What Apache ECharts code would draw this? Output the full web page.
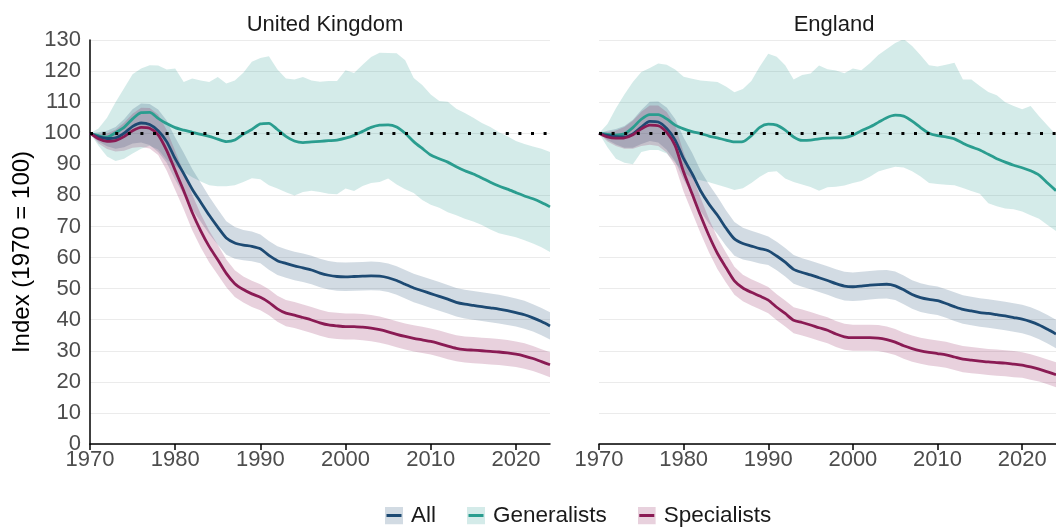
<!DOCTYPE html>
<html>
<head>
<meta charset="utf-8">
<script src="https://cdn.jsdelivr.net/npm/echarts@6/dist/echarts.min.js"></script>
<style>html,body{margin:0;padding:0;background:#fff}#c{width:1056px;height:530px}</style>
</head>
<body>
<div id="c"></div>
<script>
const years = [1970,1971,1972,1973,1974,1975,1976,1977,1978,1979,1980,1981,1982,1983,1984,1985,1986,1987,1988,1989,1990,1991,1992,1993,1994,1995,1996,1997,1998,1999,2000,2001,2002,2003,2004,2005,2006,2007,2008,2009,2010,2011,2012,2013,2014,2015,2016,2017,2018,2019,2020,2021,2022,2023,2024];
const xTickLabels = [1970,1980,1990,2000,2010,2020];
const panels = ['United Kingdom','England'];
const seriesNames = ['All','Generalists','Specialists'];

// United Kingdom
const ukAll   = [100,98.8,98.3,98.5,100,102.2,103.3,102.8,100.8,97.3, 91.8,87,82,77.8,73.6,69.8,66.3,64.7,64,63.6, 62.8,60.7,59,58.1,57.3,56.7,56,55,54.3,53.9, 53.8,53.9,54,54.1,54,53.5,52.6,51.4,50.2,49.3, 48.4,47.5,46.6,45.6,45,44.6,44.2,43.8,43.4,42.9, 42.3,41.6,40.6,39.4,38];
const ukAllLo = [100,97.3,95.8,95,95.5,96.7,97,96.2,94,90.5, 85,80.3,75.5,71.5,67.6,64.1,60.9,59.6,59.1,58.8, 58.2,56.1,54.4,53.5,52.7,52.1,51.4,50.4,49.7,49.3, 49.2,49.3,49.4,49.5,49.4,48.9,48,46.8,45.6,44.7, 43.8,42.9,42,41,40.4,40,39.6,39.2,38.8,38.3, 37.8,37.1,36.2,35,33.6];
const ukAllHi = [100,100.3,100.8,102,104.5,107.7,109.6,109.4,107.6,104.1, 98.6,93.7,88.5,84.1,79.6,75.5,71.7,69.8,68.9,68.4, 67.4,65.3,63.6,62.7,61.9,61.3,60.6,59.6,58.9,58.5, 58.4,58.5,58.6,58.7,58.6,58.1,57.2,56,54.8,53.9, 53,52.1,51.2,50.2,49.6,49.2,48.8,48.4,48,47.5, 46.8,46.1,45,43.8,42.4];

const ukGen   = [100,99.2,98.7,100.2,101.9,104.6,106.6,106.7,104.8,103.1, 101.8,101,100.3,99.6,99,98.1,97.3,97.8,99.7,101.2, 103,103.2,101.2,99,97.5,97,97.2,97.4,97.6,97.8, 98.4,99.3,100.6,101.9,102.6,102.7,102,100,97.3,95.1, 93,91.8,90.7,89.2,87.9,86.9,85.6,84.2,83,82, 80.9,79.8,78.9,77.7,76.3];
const ukGenLo = [100,96,92.5,91.1,91.8,93.5,95,96,94.8,91.5, 89.5,87.5,85.8,84.5,83.3,82.9,82.9,83.3,84.3,85.5, 85.2,83.3,82.2,81,80,81.1,81.5,81.1,80.5,80.4, 82.2,81.4,83,84,84.3,85.4,83.5,82,80.8,78.5, 77,76,74.6,73.6,72.5,71.6,70.5,69,67.8,67.2, 66.5,65.6,64.5,63.3,61.8];
const ukGenHi = [100,101.5,105,110,114.5,119,120.8,121.9,121.8,120.5, 120.8,116.5,117.6,117,116.5,118.1,116,117,119.5,123, 124.2,124.8,120.5,117.6,117.3,118.1,117,116.6,116.8,116.8, 120.3,119.4,122,124.5,125.9,125.8,125.7,123.5,117.8,115.5, 112.5,110.4,110.1,107.9,106.5,105,103.3,102,100.3,99, 97.5,96.5,95.7,95,94];

const ukSpec   = [100,98.2,97.4,97.6,98.9,100.8,101.9,101.6,99.5,94.5, 88,81.5,74.5,68.6,63.5,59.3,54.9,51.6,49.7,48.3, 47.2,45.6,43.5,42.1,41.5,40.7,39.9,39,38.3,38, 37.8,37.8,37.6,37.3,36.8,36.1,35.3,34.6,34,33.5, 33,32.3,31.5,30.8,30.4,30.2,30,29.8,29.6,29.3, 28.9,28.3,27.5,26.5,25.5];
const ukSpecLo = [100,96.7,94.9,94.1,94.4,95.3,95.6,95.1,93,88, 81.7,75.5,68.8,63.2,58.4,54.5,50.4,47.3,45.5,44.1, 43,41.4,39.3,37.9,37.3,36.5,35.7,34.8,34.1,33.8, 33.6,33.6,33.4,33.1,32.6,31.9,31.1,30.4,29.8,29.3, 28.8,28.1,27.3,26.6,26.2,26,25.8,25.6,25.4,25.1, 24.8,24.2,23.5,22.5,21.5];
const ukSpecHi = [100,99.7,99.9,101.1,103.4,106.3,108.2,108.1,106,101, 94.3,87.5,80.2,74,68.6,64.1,59.4,55.9,53.9,52.5, 51.4,49.8,47.7,46.3,45.7,44.9,44.1,43.2,42.5,42.2, 42,42,41.8,41.5,41,40.3,39.5,38.8,38.2,37.7, 37.2,36.5,35.7,35,34.6,34.4,34.2,34,33.8,33.5, 33,32.4,31.5,30.5,29.5];

// England
const enAll   = [100,99.3,98.9,98.8,99.8,102,103.8,103.6,101.5,97.8, 91.8,87,81.5,77.2,73.6,69.5,66,64.5,63.7,62.9, 62.2,60.5,58.5,56.2,55.2,54.4,53.5,52.6,51.6,50.8, 50.6,50.8,51.1,51.3,51.4,50.9,49.6,48.1,47.1,46.5, 46.1,45.2,44.2,43.3,42.8,42.3,42,41.6,41.2,40.7, 40.2,39.4,38.3,36.9,35.4];
const enAllLo = [100,97.8,96.4,95.3,95.3,96.5,97.5,97,94.7,91, 85,80.3,75,70.9,67.6,63.8,60.6,59.4,58.8,58.1, 57.6,55.9,53.9,51.6,50.6,49.8,48.9,48,47,46.2, 46,46.2,46.5,46.7,46.8,46.3,45,43.5,42.5,41.9, 41.5,40.6,39.6,38.7,38.2,37.7,37.4,37,36.6,36.1, 35.6,34.8,33.7,32.3,30.8];
const enAllHi = [100,100.8,101.4,102.3,104.3,107.5,110.1,110.2,108.3,104.6, 98.6,93.7,88,83.5,79.6,75.2,71.4,69.6,68.6,67.7, 66.8,65.1,63.1,60.8,59.8,59,58.1,57.2,56.2,55.4, 55.2,55.4,55.7,55.9,56,55.5,54.2,52.7,51.7,51.1, 50.7,49.8,48.8,47.9,47.4,46.9,46.6,46.2,45.8,45.3, 44.8,44,42.9,41.5,40];

const enGen   = [100,99.6,99.4,99.8,101.8,104.5,106,106,104.6,102.6, 101.4,100.5,99.9,99.1,98.5,97.8,97.2,97.3,99.2,101.9, 102.9,102.6,101,98.8,97.7,97.8,98.2,98.4,98.5,98.6, 99.4,100.8,102,103.5,105,105.8,105.5,103.9,101.8,100, 99.2,98.8,98.2,96.8,95.6,94.6,93.2,91.8,90.7,89.7, 88.9,87.9,86.5,84,81.5];
const enGenLo = [100,95.5,91.8,90.5,90,94,94.6,94.6,93.5,90.5, 87.5,85.5,84.9,84.2,83.4,82.6,81.7,82.3,84,86, 87.5,87.8,85.4,84.3,83.5,82.7,81.5,82.6,82.8,83.2, 84,84.6,86,87.7,88.5,89.2,89,87.8,86.1,84, 83.7,83.4,83.3,82.4,81.4,80.5,77.5,76.5,75.8,75.5, 74.8,73.6,72.5,70.5,68.5];
const enGenHi = [100,103,108,112.5,116.5,119.7,121,122.4,122,120.5, 118.2,117.5,117,116.7,116.5,115,113.2,114.2,116.8,121.5, 125.6,124.6,121.9,117.3,118.7,119.2,121.8,120.6,120.2,119.3, 120.8,120.3,122.5,125.2,127.1,129,130.3,128.1,125.1,121.9, 121.5,122,122.7,117.3,117.3,115.2,113.3,112.2,110,108.8, 107.7,108.8,105.5,102.5,99.5];

const enSpec   = [100,98.8,98.4,98.5,99.5,101.4,102.6,102.4,100.3,96, 87.5,80.5,73.5,67,61.3,56.8,52.5,50.2,48.8,47.6, 46.3,44,42,39.8,39.1,38.3,37.4,36.6,35.4,34.5, 34.2,34.2,34.2,34.1,33.6,32.8,31.6,30.7,30,29.5, 29.1,28.7,28,27.3,27,26.7,26.4,26.2,26,25.7, 25.4,24.8,24.1,23.2,22.3];
const enSpecLo = [100,97.3,95.9,95,95,95.9,96.3,95.9,93.8,89.5, 81.2,74.5,67.8,61.6,56.2,52,48,45.9,44.6,43.4, 42.1,39.8,37.8,35.6,34.9,34.1,33.2,32.4,31.2,30.3, 30,30,30,29.9,29.4,28.6,27.4,26.5,25.8,25.3, 24.9,24.5,23.8,23.1,22.8,22.5,22.2,22,21.8,21.5, 21.3,20.7,20.1,19.2,18.3];
const enSpecHi = [100,100.3,100.9,102,104,106.9,108.9,108.9,106.8,102.5, 93.8,86.5,79.2,72.4,66.4,61.6,57,54.5,53,51.8, 50.5,48.2,46.2,44,43.3,42.5,41.6,40.8,39.6,38.7, 38.4,38.4,38.4,38.3,37.8,37,35.8,34.9,34.2,33.7, 33.3,32.9,32.2,31.5,31.2,30.9,30.6,30.4,30.2,29.9, 29.5,28.9,28.1,27.2,26.3];

const lineColors = {All:'#1d4a73', Generalists:'#2a9d8f', Specialists:'#8a1b54'};
const bandColors = {All:'rgba(29,74,115,0.2)', Generalists:'rgba(42,157,143,0.2)', Specialists:'rgba(138,27,84,0.2)'};

const panelData = [
  {All:[ukAll,ukAllLo,ukAllHi], Generalists:[ukGen,ukGenLo,ukGenHi], Specialists:[ukSpec,ukSpecLo,ukSpecHi]},
  {All:[enAll,enAllLo,enAllHi], Generalists:[enGen,enGenLo,enGenHi], Specialists:[enSpec,enSpecLo,enSpecHi]}
];

const FONT = 'Liberation Sans';

function bandRenderer(lo, hi, color) {
  return function (params, api) {
    if (params.dataIndex !== 0) return null;
    const pts = [];
    for (let i = 0; i < years.length; i++) pts.push(api.coord([years[i], hi[i]]));
    for (let i = years.length - 1; i >= 0; i--) pts.push(api.coord([years[i], lo[i]]));
    return {type:'polygon', shape:{points:pts}, style:{fill:color}};
  };
}

function legendIcon(name) {
  const svg = '<svg xmlns="http://www.w3.org/2000/svg" width="18" height="18">' +
    '<rect width="18" height="18" fill="' + bandColors[name] + '"/>' +
    '<rect x="1.5" y="7.5" width="15" height="3" fill="' + lineColors[name] + '"/></svg>';
  return 'image://data:image/svg+xml;charset=utf-8,' + encodeURIComponent(svg);
}

const gridLefts = [90, 599];
const grids = gridLefts.map(l => ({left:l, top:40, width:460, height:404}));

const xAxes = grids.map((g, i) => ({
  gridIndex:i, type:'value', min:1970, max:2024, interval:10,
  axisLine:{show:true, lineStyle:{color:'#000', width:1.5}},
  axisTick:{show:true, length:6, lineStyle:{color:'#000', width:1.5}, customValues:xTickLabels},
  axisLabel:{fontFamily:FONT, fontSize:22, color:'#4d4d4d', margin:5, customValues:xTickLabels,
             formatter: v => String(v)},
  splitLine:{show:false}
}));

const yAxes = grids.map((g, i) => ({
  gridIndex:i, type:'value', min:0, max:130, interval:10,
  name: i === 0 ? 'Index (1970 = 100)' : '',
  nameLocation:'middle', nameGap:56,
  nameTextStyle:{fontFamily:FONT, fontSize:24, color:'#000', padding:[0, 20, 0, 0]},
  axisLine:{show:i === 0, lineStyle:{color:'#000', width:1.5}},
  axisTick:{show:false},
  axisLabel:{show:i === 0, fontFamily:FONT, fontSize:22, color:'#4d4d4d', margin:9},
  splitLine:{show:true, lineStyle:{color:'#ebebeb', width:1}}
}));

const series = [];
panelData.forEach((pd, p) => {
  ['Generalists','All','Specialists'].forEach(name => {
    const [mean, lo, hi] = pd[name];
    series.push({
      type:'custom', name:name, xAxisIndex:p, yAxisIndex:p, clip:true, silent:true,
      renderItem: bandRenderer(lo, hi, bandColors[name]),
      data: years.map((y, i) => [y, lo[i], hi[i]]),
      encode:{x:0, y:[1,2]}, z:1
    });
  });
  ['Generalists','All','Specialists'].forEach(name => {
    const mean = pd[name][0];
    const s = {
      type:'line', name:name, xAxisIndex:p, yAxisIndex:p, showSymbol:false, symbol:'none',
      smooth:0.25, silent:true, z:3,
      lineStyle:{color:lineColors[name], width:2.8},
      itemStyle:{color:lineColors[name]},
      data: years.map((y, i) => [y, mean[i]])
    };
    if (name === 'Generalists') {
      s.markLine = {
        silent:true, symbol:['none','none'], label:{show:false}, animation:false,
        lineStyle:{color:'#000', width:3, type:[3, 9.6], cap:'butt'},
        emphasis:{disabled:true},
        data:[{yAxis:100}]
      };
    }
    series.push(s);
  });
});

const option = {
  animation:false,
  backgroundColor:'#fff',
  textStyle:{fontFamily:FONT},
  title: panels.map((t, i) => ({
    text:t, left: gridLefts[i] + 230, top:9, textAlign:'center',
    textStyle:{fontFamily:FONT, fontSize:22, fontWeight:'normal', color:'#1a1a1a'}
  })),
  legend:{
    left:380, top:499, itemWidth:18, itemHeight:18, itemGap:31,
    selectedMode:false,
    textStyle:{fontFamily:FONT, fontSize:22.5, color:'#1a1a1a', padding:[0, 0, 0, 3]},
    data: seriesNames.map(n => ({name:n, icon:legendIcon(n)}))
  },
  grid: grids,
  xAxis: xAxes,
  yAxis: yAxes,
  series: series
};

const chart = echarts.init(document.getElementById('c'), null, {renderer:'canvas'});
chart.setOption(option);
</script>
</body>
</html>
